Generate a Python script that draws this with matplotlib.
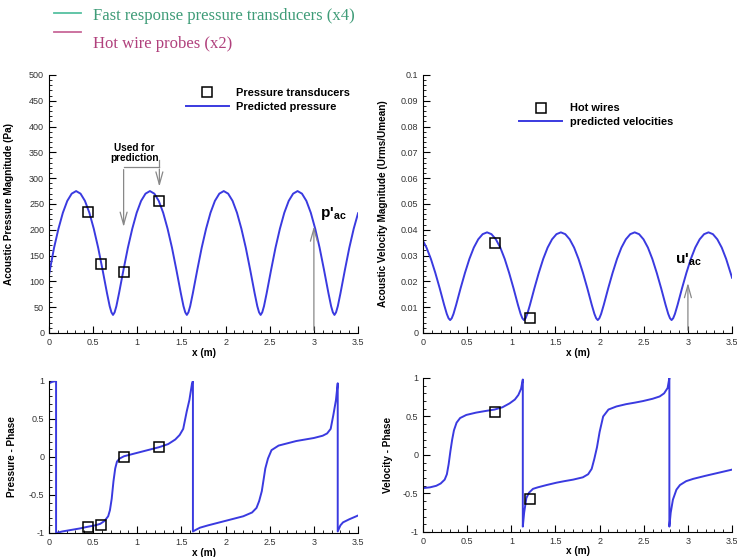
import matplotlib
matplotlib.use("Agg")
import matplotlib.pyplot as plt
from matplotlib.lines import Line2D
from matplotlib.ticker import MultipleLocator

plt.rcParams['font.family'] = ['Liberation Sans', 'DejaVu Sans']
plt.rcParams['mathtext.default'] = 'regular'

# --- data ---
# acoustic pressure magnitude (Pa)
pm_x = [0, 0.057, 0.107, 0.157, 0.207, 0.257, 0.307, 0.357, 0.407, 0.457, 0.507, 0.557, 0.607, 0.657, 0.687, 0.707,
        0.725, 0.743, 0.763, 0.793, 0.843, 0.893, 0.943, 0.993, 1.043, 1.093, 1.143,
        1.193, 1.243, 1.293, 1.343, 1.393, 1.443, 1.493, 1.523, 1.543, 1.561, 1.579, 1.599, 1.629, 1.679, 1.729, 1.779,
        1.829, 1.879, 1.929, 1.979,
        2.029, 2.079, 2.129, 2.179, 2.229, 2.279, 2.329, 2.359, 2.379, 2.397, 2.415, 2.435, 2.465, 2.515, 2.565, 2.615,
        2.665, 2.715, 2.765, 2.815,
        2.865, 2.915, 2.965, 3.015, 3.065, 3.115, 3.165, 3.195, 3.215, 3.233, 3.251, 3.271, 3.301, 3.351, 3.401, 3.451, 3.5]
pm_y = [113, 165, 202, 233, 256, 270, 275, 270, 256, 233, 202, 165, 122, 77, 52, 40,
        35, 40, 52, 77, 122, 165, 202, 233, 256, 270, 275,
        270, 256, 233, 202, 165, 122, 77, 52, 40, 35, 40, 52, 77, 122, 165, 202, 233, 256, 270, 275,
        270, 256, 233, 202, 165, 122, 77, 52, 40, 35, 40, 52, 77, 122, 165, 202, 233, 256, 270, 275,
        270, 256, 233, 202, 165, 122, 77, 52, 40, 35, 40, 52, 77, 122, 165, 202, 232]
pt_x = [0.44, 0.59, 0.845, 1.245]
pt_y = [234, 133, 118, 256]

# acoustic velocity magnitude (Urms/Umean)
vm_x = [0, 0.039, 0.089, 0.139, 0.189, 0.239, 0.269, 0.289, 0.307,
        0.325, 0.345, 0.375, 0.425, 0.475, 0.525, 0.575, 0.625, 0.675, 0.725,
        0.775, 0.825, 0.875, 0.925, 0.975, 1.025, 1.075, 1.105, 1.125, 1.143,
        1.161, 1.181, 1.211, 1.261, 1.311, 1.361, 1.411, 1.461, 1.511, 1.561,
        1.611, 1.661, 1.711, 1.761, 1.811, 1.861, 1.911, 1.941, 1.961, 1.979,
        1.997, 2.017, 2.047, 2.097, 2.147, 2.197, 2.247, 2.297, 2.347, 2.397,
        2.447, 2.497, 2.547, 2.597, 2.647, 2.697, 2.747, 2.777, 2.797, 2.815,
        2.833, 2.853, 2.883, 2.933, 2.983, 3.033, 3.083, 3.133, 3.183, 3.233,
        3.283, 3.333, 3.383, 3.433, 3.5]
vm_y = [0.0357, 0.0331, 0.0287, 0.0233, 0.0173, 0.0109, 0.0074, 0.0057, 0.005,
        0.0057, 0.0074, 0.0109, 0.0173, 0.0233, 0.0287, 0.0331, 0.0363, 0.0383, 0.039,
        0.0383, 0.0363, 0.0331, 0.0287, 0.0233, 0.0173, 0.0109, 0.0074, 0.0057, 0.005,
        0.0057, 0.0074, 0.0109, 0.0173, 0.0233, 0.0287, 0.0331, 0.0363, 0.0383, 0.039,
        0.0383, 0.0363, 0.0331, 0.0287, 0.0233, 0.0173, 0.0109, 0.0074, 0.0057, 0.005,
        0.0057, 0.0074, 0.0109, 0.0173, 0.0233, 0.0287, 0.0331, 0.0363, 0.0383, 0.039,
        0.0383, 0.0363, 0.0331, 0.0287, 0.0233, 0.0173, 0.0109, 0.0074, 0.0057, 0.005,
        0.0057, 0.0074, 0.0109, 0.0173, 0.0233, 0.0287, 0.0331, 0.0363, 0.0383, 0.039,
        0.0383, 0.0363, 0.0331, 0.0287, 0.0214]
hw_x = [0.81, 1.215]
hw_y = [0.0347, 0.0058]

# pressure phase
pp_x = [0, 0.04, 0.08, 0.08, 0.15, 0.25, 0.35, 0.43, 0.52, 0.58, 0.63, 0.67, 0.69, 0.71, 0.73, 0.75,
        0.77, 0.80, 0.85, 0.95, 1.05, 1.15, 1.25, 1.35, 1.43, 1.48, 1.52, 1.56, 1.59, 1.62, 1.63, 1.63,
        1.66, 1.71, 1.8, 1.9, 2.0, 2.1, 2.2, 2.3, 2.35, 2.38, 2.41, 2.43, 2.45, 2.48, 2.52, 2.6, 2.7, 2.8,
        2.9, 3.0, 3.1, 3.15, 3.19, 3.22, 3.25, 3.27, 3.27, 3.3, 3.33, 3.4, 3.5]
pp_y = [0.97, 0.99, 1.0, -1.0, -0.98, -0.96, -0.94, -0.92, -0.9, -0.88, -0.84, -0.78, -0.7, -0.55, -0.32, -0.15,
        -0.06, -0.02, 0.01, 0.04, 0.07, 0.1, 0.13, 0.17, 0.23, 0.29, 0.37, 0.6, 0.75, 0.97, 1.0, -0.98,
        -0.96, -0.93, -0.9, -0.87, -0.84, -0.81, -0.78, -0.73, -0.67, -0.58, -0.45, -0.3, -0.15, -0.02, 0.09, 0.15, 0.18, 0.21,
        0.23, 0.25, 0.28, 0.31, 0.37, 0.55, 0.75, 0.97, -0.98, -0.9, -0.86, -0.82, -0.77]
ppt_y = [-0.92, -0.89, 0.0, 0.13]

# velocity phase
vp_x = [0, 0.08, 0.15, 0.2, 0.245, 0.27, 0.29, 0.31, 0.33, 0.35, 0.38, 0.42, 0.49, 0.6, 0.7, 0.81, 0.9, 0.98,
        1.04, 1.08, 1.11, 1.13, 1.13, 1.145, 1.17, 1.2, 1.245, 1.3, 1.4, 1.51, 1.6, 1.7, 1.81, 1.87, 1.91, 1.94,
        1.97, 2.0, 2.04, 2.1, 2.19, 2.3, 2.4, 2.49, 2.6, 2.68, 2.73, 2.77, 2.79, 2.79, 2.805, 2.83, 2.87, 2.91,
        2.98, 3.06, 3.2, 3.35, 3.5]
vp_y = [-0.43, -0.42, -0.40, -0.37, -0.32, -0.25, -0.12, 0.05, 0.2, 0.32, 0.42, 0.48, 0.52, 0.55, 0.57, 0.59, 0.62, 0.67,
        0.72, 0.78, 0.86, 0.98, -0.93, -0.75, -0.56, -0.49, -0.44, -0.42, -0.39, -0.36, -0.34, -0.32, -0.29, -0.25, -0.18, -0.05,
        0.1, 0.3, 0.5, 0.59, 0.63, 0.66, 0.68, 0.70, 0.73, 0.76, 0.8, 0.87, 1.0, -0.93, -0.75, -0.58, -0.45, -0.39,
        -0.34, -0.31, -0.27, -0.23, -0.19]
vpt_y = [0.56, -0.57]

blue = '#3a3ae0'
tick_kw = dict(labelsize=6.5, labelcolor='#333333')


def style(ax, xmaj, xmin, ymaj, ymin, ylim):
    ax.set_xlim(0, 3.5)
    ax.set_ylim(*ylim)
    ax.spines['top'].set_visible(False)
    ax.spines['right'].set_visible(False)
    ax.xaxis.set_major_locator(MultipleLocator(xmaj))
    ax.xaxis.set_minor_locator(MultipleLocator(xmin))
    ax.yaxis.set_major_locator(MultipleLocator(ymaj))
    ax.yaxis.set_minor_locator(MultipleLocator(ymin))
    ax.tick_params(which='both', direction='in', top=False, right=False, **tick_kw)
    ax.tick_params(which='major', length=5, width=0.8)
    ax.tick_params(which='minor', length=2.5, width=0.6)
    ax.xaxis.set_major_formatter(plt.FuncFormatter(lambda v, p: f"{v:g}"))
    ax.yaxis.set_major_formatter(plt.FuncFormatter(lambda v, p: f"{v:g}"))


fig = plt.figure(figsize=(7.37, 5.57), dpi=100)
ax1 = fig.add_axes([0.0665, 0.4022, 0.4193, 0.4632])
ax2 = fig.add_axes([0.574, 0.4022, 0.4193, 0.4632])
ax3 = fig.add_axes([0.0665, 0.0431, 0.4193, 0.2729])
ax4 = fig.add_axes([0.574, 0.0449, 0.4193, 0.2765])

lab = dict(fontsize=7.2, fontweight='bold')
mk = dict(ls='none', marker='s', ms=6.5, mfc='none', mec='black', mew=1.1)
leg_kw = dict(loc='upper left', frameon=False, prop=dict(size=7.9, weight='bold'), handlelength=3.9,
              handletextpad=0.7, borderpad=0, borderaxespad=0)

# pressure magnitude
style(ax1, 0.5, 0.1, 50, 10, (0, 500))
ax1.plot(pm_x, pm_y, color=blue, lw=1.4, label='Predicted pressure')
ax1.plot(pt_x, pt_y, **mk, label='Pressure transducers')
h, l = ax1.get_legend_handles_labels()
ax1.legend(h[::-1], l[::-1], bbox_to_anchor=(0.443, 0.95), labelspacing=0.4, **leg_kw)
ax1.set_ylabel('Acoustic Pressure Magnitude (Pa)', **lab)
ax1.set_xlabel('x (m)', **lab)
ax1.yaxis.set_label_coords(-0.113, 0.5)
ax1.xaxis.set_label_coords(0.5, -0.058)
arr = dict(arrowstyle='->,head_width=0.25,head_length=0.9', color='#888888', lw=0.9)
ax1.text(0.97, 349, 'Used for\nprediction', ha='center', va='center', fontsize=7.2, fontweight='bold',
         linespacing=1.0)
ax1.plot([0.845, 1.25], [322, 322], color='#888888', lw=0.9)
ax1.plot([1.25, 1.25], [322, 336], color='#888888', lw=0.9)
ax1.annotate('', xy=(0.845, 200), xytext=(0.845, 322), arrowprops=arr)
ax1.annotate('', xy=(1.25, 278), xytext=(1.25, 323), arrowprops=arr)
ax1.annotate('', xy=(3.0, 212), xytext=(3.0, 0), arrowprops=arr)
ax1.text(3.07, 232, r"p'$_{ac}$", fontsize=11, fontweight='bold', va='center')

# velocity magnitude
style(ax2, 0.5, 0.1, 0.01, 0.002, (0, 0.1))
ax2.plot(vm_x, vm_y, color=blue, lw=1.4, label='predicted velocities')
ax2.plot(hw_x, hw_y, **mk, label='Hot wires')
h, l = ax2.get_legend_handles_labels()
ax2.legend(h[::-1], l[::-1], bbox_to_anchor=(0.311, 0.89), labelspacing=0.3, **leg_kw)
ax2.set_ylabel('Acoustic Velocity Magnitude (Urms/Umean)', **lab)
ax2.set_xlabel('x (m)', **lab)
ax2.yaxis.set_label_coords(-0.113, 0.5)
ax2.xaxis.set_label_coords(0.5, -0.058)
ax2.annotate('', xy=(3.0, 0.0205), xytext=(3.0, 0), arrowprops=arr)
ax2.text(2.85, 0.0285, r"u'$_{ac}$", fontsize=11, fontweight='bold', va='center')

# pressure phase
style(ax3, 0.5, 0.1, 0.5, 0.1, (-1, 1))
ax3.plot(pp_x, pp_y, color=blue, lw=1.4)
ax3.plot(pt_x, ppt_y, **mk)
ax3.set_ylabel('Pressure - Phase', **lab)
ax3.set_xlabel('x (m)', **lab)
ax3.yaxis.set_label_coords(-0.104, 0.5)
ax3.xaxis.set_label_coords(0.5, -0.098)

# velocity phase
style(ax4, 0.5, 0.1, 0.5, 0.1, (-1, 1))
ax4.plot(vp_x, vp_y, color=blue, lw=1.4)
ax4.plot(hw_x, vpt_y, **mk)
ax4.set_ylabel('Velocity - Phase', **lab)
ax4.set_xlabel('x (m)', **lab)
ax4.yaxis.set_label_coords(-0.097, 0.5)
ax4.xaxis.set_label_coords(0.5, -0.094)

# sensor key at the top
fig.add_artist(Line2D([54 / 737, 81 / 737], [1 - 13 / 557, 1 - 13 / 557], color='#55c0a0', lw=1.3))
fig.add_artist(Line2D([54 / 737, 81 / 737], [1 - 32 / 557, 1 - 32 / 557], color='#c86898', lw=1.3))
fig.text(93 / 737, 1 - 16 / 557, 'Fast response pressure transducers (x4)', family='Liberation Serif',
         fontsize=12, color='#3f9c78', va='center')
fig.text(93 / 737, 1 - 44 / 557, 'Hot wire probes (x2)', family='Liberation Serif',
         fontsize=12, color='#b0407c', va='center')

fig.savefig('out.png', dpi=100)
